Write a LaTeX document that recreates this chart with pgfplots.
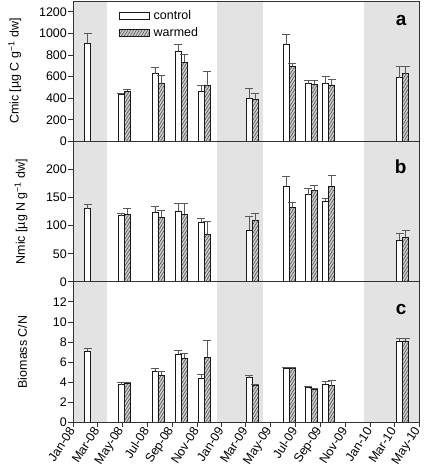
\documentclass[border=0pt]{standalone}
\usepackage{pgfplots}
\pgfplotsset{compat=1.18}
\usepackage{pgfplotstable}
\usepackage{fontspec}
\setmainfont{Liberation Sans}
\usetikzlibrary{patterns.meta}

\pgfplotstableread{
x y e
36 912 88
118.5 437 8
201.5 627 56
258.5 835 59
315.5 465 52
433.5 398 92
524.5 896 98
578.5 536 33
621.5 536 67
803.5 591 100
}\Actrl
\pgfplotstableread{
x y e
133.5 465 18
216.5 536 79
273.5 734 68
330.5 517 132
448.5 389 51
539.5 694 25
593.5 527 42
636.5 523 49
818.5 628 69
}\Awarm
\pgfplotstableread{
x y e
36 130 7
118.5 118 4
201.5 124 10
258.5 125.5 14.5
315.5 106 6
433.5 92 25
524.5 170 18
578.5 155 12
621.5 143 6
803.5 74 13
}\Bctrl
\pgfplotstableread{
x y e
133.5 120 10
216.5 115 13
273.5 120 20
330.5 85 22
448.5 109 13
539.5 133 8
593.5 162 10
636.5 170 20
818.5 79 12
}\Bwarm
\pgfplotstableread{
x y e
36 7.1 0.27
118.5 3.73 0.27
201.5 5.1 0.23
258.5 6.8 0.36
315.5 4.37 0.4
433.5 4.43 0.24
524.5 5.37 0.1
578.5 3.5 0.07
621.5 3.8 0.3
803.5 8.1 0.3
}\Cctrl
\pgfplotstableread{
x y e
133.5 3.9 0.1
216.5 4.7 0.36
273.5 6.36 0.47
330.5 6.5 1.63
448.5 3.67 0.06
539.5 5.33 0.17
593.5 3.3 0.07
636.5 3.63 0.57
818.5 8.1 0.3
}\Cwarm

\newcommand{\fs}{\fontsize{12.5}{14}\selectfont}
\pgfplotsset{
  panel/.style={
    width=346bp, height=140.4bp, scale only axis,
    xmin=0, xmax=851, ymin=0,
    axis on top,
    axis line style={black!80, line width=0.9bp},
    tick style={black!80, line width=0.8bp},
    tick align=outside, major tick length=4.5bp,
    ytick pos=left, xtick pos=bottom,
    /pgf/number format/assume math mode=true,
    /pgf/number format/1000 sep={},
    tick label style={font=\fs},
    yticklabel style={inner sep=1.5bp},
    label style={font=\fs},
  },
  shade/.style={fill=black!11, draw=none, forget plot},
  ctrl/.style={ybar, bar width=15, bar shift=0pt, draw=black!90, line width=0.7bp, fill=white,
    error bars/.cd, y dir=plus, y explicit,
    error bar style={black!65, line width=0.8bp},
    error mark options={rotate=90, black!65, mark size=4bp, line width=0.8bp}},
  warm/.style={ybar, bar width=15, bar shift=0pt, draw=black!90, line width=0.7bp, fill=black!20,
    postaction={pattern={Lines[angle=58,distance=2.4bp,line width=0.5bp]}, pattern color=black!75},
    error bars/.cd, y dir=plus, y explicit,
    error bar style={black!65, line width=0.8bp},
    error mark options={rotate=90, black!65, mark size=4bp, line width=0.8bp}},
}

\begin{document}
\begin{tikzpicture}
% panel a
\begin{axis}[panel, at={(0bp,280.8bp)},
  ymax=1300, ytick={0,200,...,1200}, xtick=\empty,
  ylabel={Cmic [µg C g\textsuperscript{−1} dw]},
  ylabel style={at={(axis description cs:-0.168,0.5)}, anchor=center},
  legend style={at={(axis description cs:0.131,0.945)}, anchor=north west, draw=none, fill=none,
    inner sep=0pt, row sep=3.5bp, font=\fs, nodes={inner sep=1.5bp}},
  legend cell align=left,
  legend image code/.code={\draw[#1] (0bp,-3.5bp) rectangle (30bp,3.5bp);},
  /tikz/every odd column/.append style={column sep=3bp},
]
\addplot[shade] coordinates {(0,1300) (84,1300)} \closedcycle;
\addplot[shade] coordinates {(353,1300) (467,1300)} \closedcycle;
\addplot[shade] coordinates {(716,1300) (851,1300)} \closedcycle;
\addplot[ctrl] table[x=x, y=y, y error=e] {\Actrl};
\addlegendentry{control}
\addplot[warm] table[x=x, y=y, y error=e] {\Awarm};
\addlegendentry{warmed}
\node[anchor=base east, font=\bfseries\fontsize{19}{21}\selectfont] at (axis description cs:0.974,0.829) {a};
\end{axis}
% panel b
\begin{axis}[panel, at={(0bp,140.4bp)},
  ymax=250, ytick={0,50,...,200}, xtick=\empty,
  ylabel={Nmic [µg N g\textsuperscript{−1} dw]},
  ylabel style={at={(axis description cs:-0.150,0.5)}, anchor=center},
]
\addplot[shade] coordinates {(0,250) (84,250)} \closedcycle;
\addplot[shade] coordinates {(353,250) (467,250)} \closedcycle;
\addplot[shade] coordinates {(716,250) (851,250)} \closedcycle;
\addplot[ctrl] table[x=x, y=y, y error=e] {\Bctrl};
\addplot[warm] table[x=x, y=y, y error=e] {\Bwarm};
\node[anchor=base east, font=\bfseries\fontsize{19}{21}\selectfont] at (axis description cs:0.974,0.768) {b};
\end{axis}
% panel c
\begin{axis}[panel, at={(0bp,0bp)},
  ymax=14, ytick={0,2,...,12},
  xtick={0,60,121,182,244,305,366,425,486,547,609,670,731,790,851},
  xticklabels={Jan-08,Mar-08,May-08,Jul-08,Sep-08,Nov-08,Jan-09,Mar-09,May-09,Jul-09,Sep-09,Nov-09,Jan-10,Mar-10,May-10},
  xticklabel style={rotate=57, anchor=east, inner sep=1bp, xshift=-1bp},
  ylabel={Biomass C/N},
  ylabel style={at={(axis description cs:-0.146,0.5)}, anchor=center},
]
\addplot[shade] coordinates {(0,14) (84,14)} \closedcycle;
\addplot[shade] coordinates {(353,14) (467,14)} \closedcycle;
\addplot[shade] coordinates {(716,14) (851,14)} \closedcycle;
\addplot[ctrl] table[x=x, y=y, y error=e] {\Cctrl};
\addplot[warm] table[x=x, y=y, y error=e] {\Cwarm};
\node[anchor=base east, font=\bfseries\fontsize{19}{21}\selectfont] at (axis description cs:0.974,0.765) {c};
\end{axis}
\pgfresetboundingbox
\useasboundingbox (-73bp,-52.8bp) rectangle (355bp,422.2bp);
\end{tikzpicture}
\end{document}
